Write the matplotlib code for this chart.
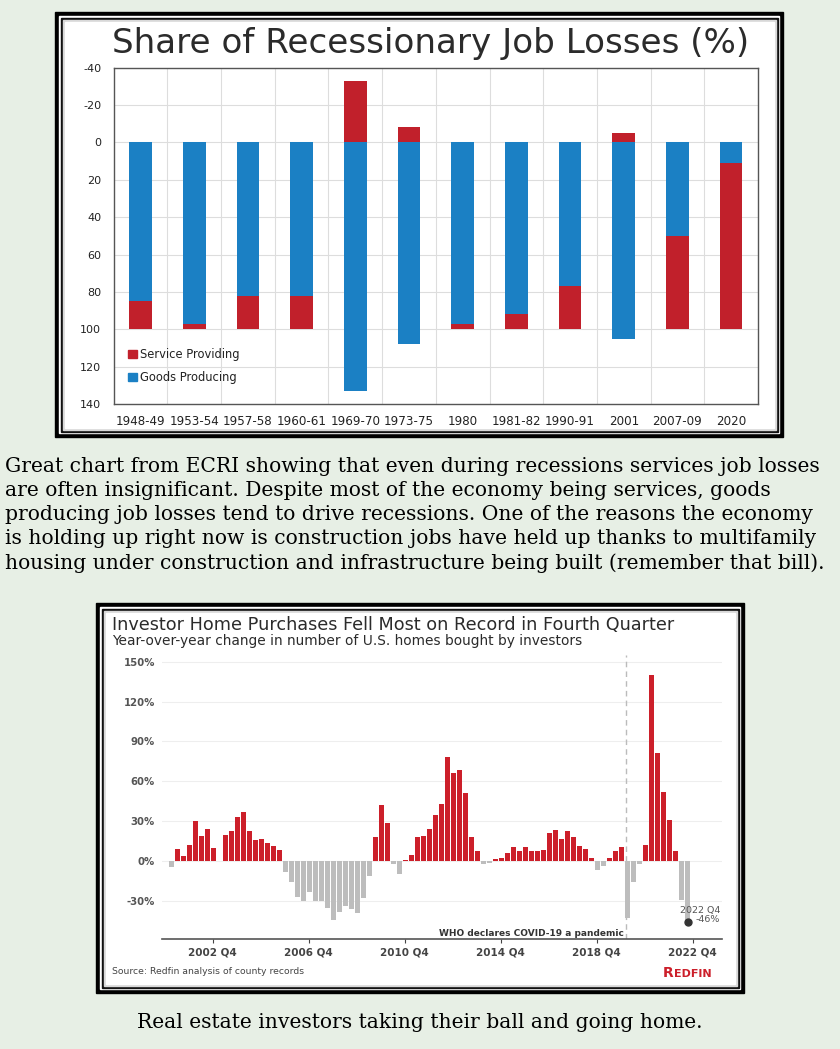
import matplotlib
matplotlib.use('Agg')
import matplotlib.pyplot as plt
import numpy as np
from matplotlib.patches import Rectangle, Patch
from matplotlib.offsetbox import TextArea, HPacker, AnnotationBbox

plt.rcParams['axes.unicode_minus'] = False

# ---- top chart data (ECRI) ----
periods = ['1948-49', '1953-54', '1957-58', '1960-61', '1969-70', '1973-75',
           '1980', '1981-82', '1990-91', '2001', '2007-09', '2020']
goods = np.array([85, 97, 82, 82, 133, 108, 97, 92, 77, 105, 50, 11])
services = np.array([15, 3, 18, 18, -33, -8, 3, 8, 23, -5, 50, 89])

# ---- bottom chart data (Redfin), 2001 Q2 .. 2022 Q4 ----
inv_change = [-4, 9, 4, 12, 30, 19, 24, 10, 0, 20, 23, 33, 37, 23, 16, 16.5,
              14, 11.5, 8.5, -8, -16, -27, -30, -23, -30, -30, -35, -44, -38,
              -34, -36, -39, -28, -11, 18, 42, 29, -2, -10, 1, 4.5, 18, 19,
              24.5, 35, 43, 78, 66, 68.5, 51.5, 18, 7.5, -2, -1.5, 2, 2.7, 6,
              10.5, 8, 11, 8, 8, 8.5, 21, 23.5, 16.5, 23, 18, 11.5, 9, 2.7,
              -7, -3.7, 2.7, 7.5, 10.5, -43, -16, -2, 12, 140, 81, 52, 31,
              7.5, -29, -46]
quarters = []
y, q = 2001, 2
for i in range(len(inv_change)):
    quarters.append('%d Q%d' % (y, q))
    q += 1
    if q > 4:
        q = 1
        y += 1
tick_quarters = ['2002 Q4', '2006 Q4', '2010 Q4', '2014 Q4', '2018 Q4', '2022 Q4']
covid_quarter = '2020 Q1'

caption1 = ["Great chart from ECRI showing that even during recessions services job losses",
            "are often insignificant. Despite most of the economy being services, goods",
            "producing job losses tend to drive recessions. One of the reasons the economy",
            "is holding up right now is construction jobs have held up thanks to multifamily",
            "housing under construction and infrastructure being built (remember that bill)."]
caption2 = "Real estate investors taking their ball and going home."

W, H = 840, 1049
fig = plt.figure(figsize=(W / 100, H / 100), dpi=100)
fig.patch.set_facecolor('#e7efe5')


def px(x0, y0, x1, y1):
    return [x0 / W, 1 - y1 / H, (x1 - x0) / W, (y1 - y0) / H]


bg = fig.add_axes([0, 0, 1, 1], zorder=0)
bg.set_xlim(0, W)
bg.set_ylim(H, 0)
bg.axis('off')


def frame(x0, y0, x1, y1):
    bg.add_patch(Rectangle((x0, y0), x1 - x0, y1 - y0, color='black'))
    bg.add_patch(Rectangle((x0 + 4, y0 + 4), x1 - x0 - 8, y1 - y0 - 8, color='white'))
    bg.add_patch(Rectangle((x0 + 5.5, y0 + 5.5), x1 - x0 - 11, y1 - y0 - 11, color='#111111'))
    bg.add_patch(Rectangle((x0 + 7.5, y0 + 7.5), x1 - x0 - 15, y1 - y0 - 15, color='#d8d8d8'))
    bg.add_patch(Rectangle((x0 + 9.5, y0 + 9.5), x1 - x0 - 19, y1 - y0 - 19, color='white'))


frame(55, 12, 783, 437)
frame(96, 603, 744, 993)

# ---------- top chart ----------
bg.text(112, 43, 'Share of Recessionary Job Losses (%)', fontsize=24.6,
        color='#2b2b2b', va='center', ha='left')

red1 = '#c1202b'
blue1 = '#1b80c4'
ax1 = fig.add_axes(px(113.7, 67.7, 758, 404), zorder=1)
xs = np.arange(len(periods))
ax1.bar(xs, goods, width=0.42, color=blue1, zorder=3)
red_bottom = np.where(services < 0, 0, goods)
ax1.bar(xs, services, bottom=red_bottom, width=0.42, color=red1, zorder=3)
ax1.set_xlim(-0.5, len(periods) - 0.5)
ax1.set_ylim(140, -40)
ax1.set_yticks(np.arange(-40, 141, 20))
ax1.set_xticks(xs)
ax1.set_xticklabels(periods)
ax1.set_xticks(xs[:-1] + 0.5, minor=True)
ax1.grid(True, axis='y', color='#dddddd', lw=0.8, zorder=0)
ax1.grid(True, axis='x', which='minor', color='#dddddd', lw=0.8, zorder=0)
ax1.tick_params(axis='both', which='both', length=0, labelsize=8, colors='#222222')
ax1.tick_params(axis='x', labelsize=8.6)
ax1.tick_params(axis='y', pad=9)
ax1.tick_params(axis='x', pad=8)
for s in ax1.spines.values():
    s.set_color('#555555')
    s.set_linewidth(1)
ax1.legend(handles=[Patch(color=red1), Patch(color=blue1)],
           labels=['Service Providing', 'Goods Producing'],
           loc='upper left', bbox_to_anchor=(0.022, 0.166), frameon=False,
           fontsize=8.3, handlelength=0.75, handleheight=0.75, handletextpad=0.3,
           labelspacing=0.85, borderpad=0, borderaxespad=0,
           labelcolor='#222222')
ecri = HPacker(children=[TextArea('E', textprops=dict(fontsize=9.5, fontweight='bold', color='#222222')),
                         TextArea('C', textprops=dict(fontsize=9.5, fontweight='bold', color=blue1)),
                         TextArea('RI', textprops=dict(fontsize=9.5, fontweight='bold', color='#222222'))],
               pad=0, sep=0, align='baseline')
bg.add_artist(AnnotationBbox(ecri, (733, 389), frameon=False, box_alignment=(0.5, 0.5), zorder=5))

# ---------- caption ----------
for i, line in enumerate(caption1):
    bg.text(5, 466 + 24.2 * i, line, fontsize=14.6, family='DejaVu Serif',
            color='black', va='center', ha='left')
bg.text(420, 1022, caption2, fontsize=14.6, family='DejaVu Serif',
        color='black', va='center', ha='center')

# ---------- bottom chart ----------
bg.text(112, 625, 'Investor Home Purchases Fell Most on Record in Fourth Quarter',
        fontsize=12.7, color='#2b2b2b', va='center', ha='left')
bg.text(112, 641, 'Year-over-year change in number of U.S. homes bought by investors',
        fontsize=9.9, color='#2b2b2b', va='center', ha='left')

red2 = '#cc1f2a'
grey2 = '#bdbdbd'
ax2 = fig.add_axes(px(162, 655, 722, 939), zorder=1)
ax2.set_facecolor('none')
vals = np.array(inv_change)
idx = np.arange(len(vals))
ax2.bar(idx, vals, width=0.78, color=np.where(vals >= 0, red2, grey2), zorder=3)
ax2.set_xlim(-1.62, 91.7)
ax2.set_ylim(-58.5, 155)
ax2.set_yticks(np.arange(-30, 151, 30))
ax2.set_yticklabels(['%d%%' % v for v in np.arange(-30, 151, 30)])
ax2.grid(True, axis='y', color='#eeeeee', lw=0.8, zorder=0)
ax2.set_xticks([quarters.index(t) + 0.8 for t in tick_quarters])
ax2.set_xticklabels(tick_quarters)
for s in ['top', 'right', 'left']:
    ax2.spines[s].set_visible(False)
ax2.spines['bottom'].set_color('#555555')
ax2.spines['bottom'].set_linewidth(1.2)
ax2.tick_params(axis='y', length=0, pad=5, labelsize=7.3, colors='#555555')
ax2.tick_params(axis='x', length=3, width=0.8, pad=3, labelsize=7.5, colors='#444444')
for lab in ax2.get_yticklabels() + ax2.get_xticklabels():
    lab.set_fontweight('bold')

cx = quarters.index(covid_quarter) + 0.7
ax2.axvline(cx, color='#bbbbbb', lw=1, ls=(0, (4, 3)), zorder=2)
ax2.text(cx - 0.4, -54, 'WHO declares COVID-19 a pandemic', ha='right', va='center',
         fontsize=6.5, fontweight='bold', color='#333333', zorder=4,
         bbox=dict(facecolor='white', edgecolor='none', pad=0.5))
last = len(vals) - 1
ax2.plot(last, vals[last], 'o', color='#333333', ms=5, zorder=5)
ax2.text(91.4, -40.5, '%s\n%d%%' % (quarters[last], vals[last]), ha='right', va='center',
         multialignment='right', fontsize=6.8, color='#555555', linespacing=1.0, zorder=4)

bg.text(112, 972, 'Source: Redfin analysis of county records', fontsize=6.7,
        color='#444444', va='center', ha='left')
redfin = HPacker(children=[TextArea('R', textprops=dict(fontsize=10, fontweight='bold', color=red2)),
                           TextArea('EDFIN', textprops=dict(fontsize=8, fontweight='bold', color=red2))],
                 pad=0, sep=0, align='baseline')
bg.add_artist(AnnotationBbox(redfin, (687, 973), frameon=False, box_alignment=(0.5, 0.5), zorder=5))

fig.savefig('out.png', dpi=100, facecolor=fig.get_facecolor())
